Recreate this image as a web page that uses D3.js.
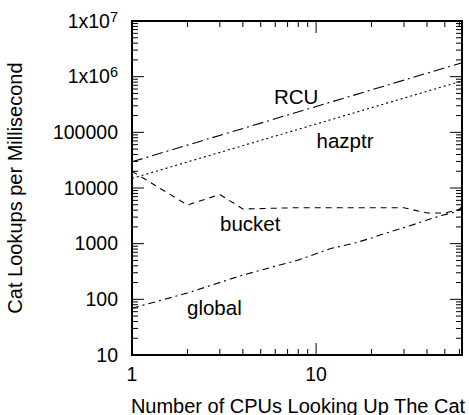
<!DOCTYPE html>
<html><head><meta charset="utf-8">
<script src="https://cdn.jsdelivr.net/npm/d3@7/dist/d3.min.js"></script>
<style>
body{margin:0;background:#fff;}
svg{display:block;}
text{font-family:"Liberation Sans",Arial,Helvetica,sans-serif;fill:#000;}
</style></head>
<body><svg id="c" width="469" height="415"></svg>
<script>
// ---- data ----
const rcuX = [1, 62];
const rcuY = [29600, 1780000];
const hazptrX = [1, 62];
const hazptrY = [14900, 836000];
const bucketX = [1, 2, 3, 4, 8, 16, 30, 40, 50, 62];
const bucketY = [20000, 4950, 7640, 4200, 4430, 4430, 4430, 3560, 3560, 4200];
const globalX = [1, 2, 4, 8, 12, 16, 20, 24, 32, 40, 48, 58, 62];
const globalY = [69, 130, 273, 508, 818, 1014, 1265, 1550, 2070, 2660, 3210, 3750, 4610];
const seriesNames = ["RCU", "hazptr", "bucket", "global"];
const xMajorTicks = [1, 10];
const xTickLabels = ["1", "10"];
const yMajorTicks = [10, 100, 1000, 10000, 100000, 1e6, 1e7];
const yTickBase = ["10", "100", "1000", "10000", "100000", "1x10", "1x10"];
const yTickSup = ["", "", "", "", "", "6", "7"];
const xTitle = "Number of CPUs Looking Up The Cat";
const yTitle = "Cat Lookups per Millisecond";

// ---- layout ----
const L = 132, R = 462, T = 21, B = 355;
const svg = d3.select("#c");
const x = d3.scaleLog().domain([1, 62]).range([L, R]);
const y = d3.scaleLog().domain([10, 1e7]).range([B, T]);

// minor ticks
const xMinor = [];
for (const d of [1, 10]) for (let k = 2; k <= 9; k++) { const v = d * k; if (v < 62) xMinor.push(v); }
const yMinor = [];
for (const d of [10, 100, 1000, 1e4, 1e5, 1e6]) for (let k = 2; k <= 9; k++) yMinor.push(d * k);

const tk = svg.append("g").attr("stroke", "#000").attr("stroke-width", 1);
yMinor.forEach(v => {
  tk.append("line").attr("x1", L).attr("x2", L + 6).attr("y1", y(v)).attr("y2", y(v));
  tk.append("line").attr("x1", R).attr("x2", R - 6).attr("y1", y(v)).attr("y2", y(v));
});
yMajorTicks.forEach(v => {
  tk.append("line").attr("x1", L).attr("x2", L + 12).attr("y1", y(v)).attr("y2", y(v));
  tk.append("line").attr("x1", R).attr("x2", R - 12).attr("y1", y(v)).attr("y2", y(v));
});
xMinor.forEach(v => {
  tk.append("line").attr("x1", x(v)).attr("x2", x(v)).attr("y1", B).attr("y2", B - 6);
  tk.append("line").attr("x1", x(v)).attr("x2", x(v)).attr("y1", T).attr("y2", T + 6);
});
xMajorTicks.forEach(v => {
  tk.append("line").attr("x1", x(v)).attr("x2", x(v)).attr("y1", B).attr("y2", B - 12);
  tk.append("line").attr("x1", x(v)).attr("x2", x(v)).attr("y1", T).attr("y2", T + 12);
});

// lines
const line = d3.line().x(d => x(d[0])).y(d => y(d[1]));
const zip = (a, b) => a.map((v, i) => [v, b[i]]);
const series = [
  {xs: rcuX, ys: rcuY, dash: "11,4,2,4"},
  {xs: hazptrX, ys: hazptrY, dash: "2,3"},
  {xs: bucketX, ys: bucketY, dash: "6,5"},
  {xs: globalX, ys: globalY, dash: "7,4,2,4"}
];
series.forEach(s => {
  svg.append("path").attr("d", line(zip(s.xs, s.ys)))
    .attr("fill", "none").attr("stroke", "#000").attr("stroke-width", 1.1)
    .attr("stroke-dasharray", s.dash);
});

// frame
svg.append("rect").attr("x", L).attr("y", T).attr("width", R - L).attr("height", B - T)
  .attr("fill", "none").attr("stroke", "#000").attr("stroke-width", 2);

// tick labels
const fs = 19.5;
yMajorTicks.forEach((v, i) => {
  const t = svg.append("text").attr("x", 118).attr("y", y(v)).attr("dy", "0.35em")
    .attr("text-anchor", "end").attr("font-size", fs);
  t.append("tspan").text(yTickBase[i]);
  if (yTickSup[i]) t.append("tspan").attr("dy", "-0.42em").attr("font-size", 14.5).text(yTickSup[i]);
});
xMajorTicks.forEach((v, i) => {
  svg.append("text").attr("x", x(v)).attr("y", 380.5).attr("text-anchor", "middle")
    .attr("font-size", fs).text(xTickLabels[i]);
});

// series labels
const lab = [[274, 103.5], [316.5, 148], [220, 231], [187, 314.5]];
seriesNames.forEach((n, i) => {
  svg.append("text").attr("x", lab[i][0]).attr("y", lab[i][1]).attr("font-size", 20.5).text(n);
});

// axis titles
svg.append("text").attr("x", 298).attr("y", 412.5).attr("text-anchor", "middle")
  .attr("font-size", 20).text(xTitle);
svg.append("text").attr("transform", "translate(22,188) rotate(-90)").attr("text-anchor", "middle")
  .attr("font-size", 20).text(yTitle);
</script></body></html>
